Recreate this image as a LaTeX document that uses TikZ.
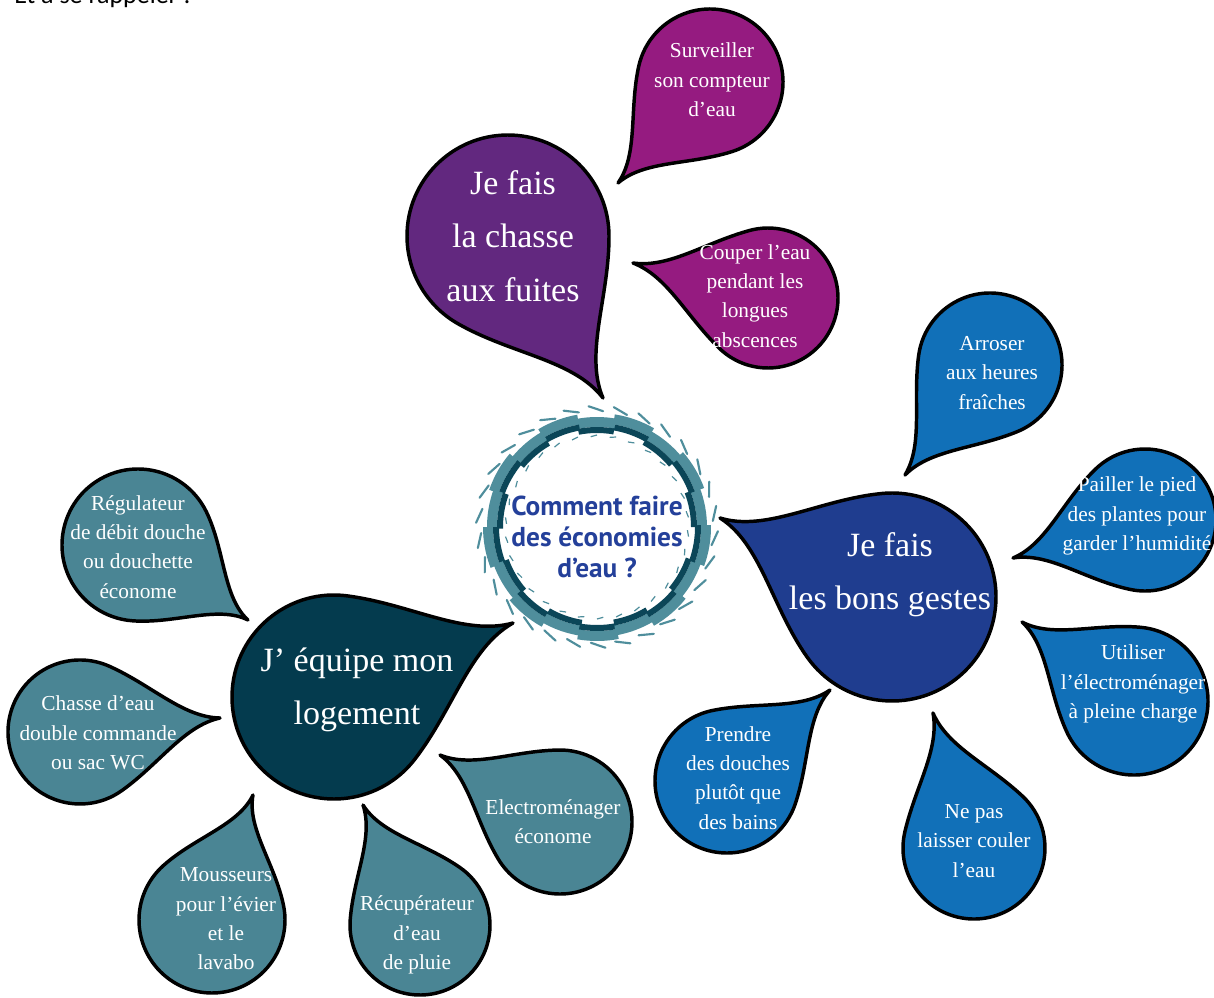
\documentclass[tikz,border=0pt]{standalone}
\usepackage{fontspec}
\setmainfont{Liberation Serif}
\newfontfamily\ctrfont{PT Sans}
\newfontfamily\topfont{Carlito}
\usetikzlibrary{calc}
\definecolor{purpleBig}{HTML}{62287F}
\definecolor{magentaSmall}{HTML}{951B80}
\definecolor{navyBig}{HTML}{1F3D8F}
\definecolor{blueSmall}{HTML}{1170B8}
\definecolor{tealBig}{HTML}{043B4E}
\definecolor{tealSmall}{HTML}{4A8594}
\definecolor{ringTeal}{HTML}{4F8E9C}
\definecolor{ringDark}{HTML}{0B4658}
\definecolor{ctrText}{HTML}{24409A}
\tikzset{
  dropline/.style={draw=black, line width=2.6pt, line join=round},
  smalltxt/.style={text=white, align=center, font=\fontsize{16}{22}\selectfont, inner sep=0pt},
  bigtxt/.style={text=white, align=center, font=\fontsize{25.5}{40}\selectfont, inner sep=0pt},
}
% #1 cx, #2 cy, #3 r, #4 tx, #5 ty, #6 colour, #7 bend, #8 join angle
\newcommand\waterdrop[8]{%
  \pgfmathsetmacro\ddx{#4-#1}%
  \pgfmathsetmacro\ddy{#2-#5}%
  \pgfmathsetmacro\dd{veclen(\ddx,\ddy)}%
  \pgfmathsetmacro\th{atan2(\ddy,\ddx)}%
  \pgfmathsetmacro\al{#8}%
  \pgfmathsetmacro\ca{#3*cos(\al)}%
  \pgfmathsetmacro\sa{#3*sin(\al)}%
  \pgfmathsetmacro\LL{\dd-\ca}%
  \pgfmathsetmacro\kk{0.45*\LL}%
  \pgfmathsetmacro\tc{\dd-0.35*\LL}%
  \pgfmathsetmacro\ww{0.06*#3}%
  \pgfmathsetmacro\pax{\ca+\kk*sin(\al)}%
  \pgfmathsetmacro\pay{\sa-\kk*cos(\al)}%
  \pgfmathsetmacro\tpa{\ww+#7}%
  \pgfmathsetmacro\tpb{-\ww+#7}%
  \pgfmathsetmacro\ea{360-\al}%
  \begin{scope}[shift={(#1,-#2)}, rotate=\th]
    \filldraw[dropline, fill=#6] (\dd,0) .. controls (\tc,\tpa) and (\pax,\pay) .. (\ca,\sa)
      arc[start angle=\al, end angle=\ea, radius=#3]
      .. controls (\pax,-\pay) and (\tc,\tpb) .. cycle;
  \end{scope}%
}
\begin{document}
\begin{tikzpicture}[x=0.75pt, y=0.75pt]
\useasboundingbox (0,0) rectangle (1214,-998);
\fill[white] (0,0) rectangle (1214,-998);

% top partial text
\node[anchor=base west, inner sep=0pt, font=\topfont\fontsize{19.5}{22}\selectfont] (toptxt) at (14,-4) {Et à se rappeler :};

% purple group
\waterdrop{508}{236}{101}{603}{398}{purpleBig}{0}{60}
\waterdrop{710}{82}{73}{618}{183}{magentaSmall}{0}{60}
\waterdrop{768}{298}{70}{633}{263}{magentaSmall}{0}{60}

% blue group
\waterdrop{892}{597}{104}{720}{518}{navyBig}{0}{60}
\waterdrop{990}{365}{72}{905}{475}{blueSmall}{0}{60}
\waterdrop{1145}{520}{71}{1013}{558}{blueSmall}{0}{62}
\waterdrop{1134}{701}{74}{1022}{622}{blueSmall}{0}{60}
\waterdrop{974}{848}{71}{933}{713}{blueSmall}{0}{60}
\waterdrop{727}{781}{72}{830}{690}{blueSmall}{0}{60}

% teal group
\waterdrop{334}{697}{102}{513}{623}{tealBig}{0}{60}
\waterdrop{138}{545}{76}{248}{620}{tealSmall}{0}{60}
\waterdrop{80}{732}{72}{220}{718}{tealSmall}{0}{60}
\waterdrop{212}{920}{73}{253}{795}{tealSmall}{0}{60}
\waterdrop{420}{925}{70}{363}{805}{tealSmall}{0}{60}
\waterdrop{560}{822}{72}{440}{755}{tealSmall}{0}{60}

% centre ring
\begin{scope}[shift={(597,-527)}]
  \fill[white] (0,0) circle[radius=96];
  \foreach \i in {0,...,17}{
    \pgfmathsetmacro\aa{\i*20}
    \pgfmathsetmacro\ab{\i*20+21}
    \pgfmathsetmacro\oo{mod(\i,2)*4-2}
    \pgfmathsetmacro\ro{112+\oo}
    \pgfmathsetmacro\rm{102+\oo}
    \pgfmathsetmacro\ri{96+\oo}
    \fill[ringTeal] (\aa:\ro) arc[start angle=\aa, end angle=\ab, radius=\ro]
      -- (\ab:\rm) arc[start angle=\ab, end angle=\aa, radius=\rm] -- cycle;
    \fill[ringDark] (\aa:\rm) arc[start angle=\aa, end angle=\ab, radius=\rm]
      -- (\ab:\ri) arc[start angle=\ab, end angle=\aa, radius=\ri] -- cycle;
  }
  \foreach \i in {0,...,29}{
    \pgfmathsetmacro\bb{\i*12+3}
    \pgfmathsetmacro\bc{\i*12+10}
    \pgfmathsetmacro\bd{\i*12+6}
    \pgfmathsetmacro\be{\i*12+10}
    \draw[ringTeal, line width=1.6pt, line cap=round] (\bb:116) -- (\bc:121);
    \draw[ringTeal, line width=0.9pt] (\bd:92) -- (\be:90.5);
  }
\end{scope}
\node[text=ctrText, align=center, inner sep=0pt, font=\ctrfont\bfseries\fontsize{20.5}{23.3}\selectfont] (centre) at (597,-537) {Comment faire\\des économies\\d’eau ?};

% texts
\node[bigtxt] (chasse) at (513,-236) {Je fais\\la chasse\\aux fuites};
\node[smalltxt] (surv) at (712,-80) {Surveiller\\son compteur\\d’eau};
\node[smalltxt] (couper) at (755,-296) {Couper l’eau\\pendant les\\longues\\abscences};

\node[bigtxt] (gestes) at (890,-575) {Je fais\\les bons gestes};
\node[smalltxt] (arroser) at (992,-373) {Arroser\\aux heures\\fraîches};
\node[smalltxt] (pailler) at (1137,-516) {Pailler le pied\\des plantes pour\\garder l’humidité};
\node[smalltxt] (utiliser) at (1133,-684) {Utiliser\\l’électroménager\\à pleine charge};
\node[smalltxt] (nepas) at (974,-841) {Ne pas\\laisser couler\\l’eau};
\node[smalltxt] (prendre) at (738,-778) {Prendre\\des douches\\plutôt que\\des bains};

\node[bigtxt] (equipe) at (357,-690) {J’ équipe mon\\logement};
\node[smalltxt] (regul) at (138,-547) {Régulateur\\de débit douche\\ou douchette\\économe};
\node[smalltxt] (chassedeau) at (98,-733) {Chasse d’eau\\double commande\\ou sac WC};
\node[smalltxt] (mousseurs) at (226,-919) {Mousseurs\\pour l’évier\\et le\\lavabo};
\node[smalltxt] (recup) at (417,-935) {Récupérateur\\d’eau\\de pluie};
\node[smalltxt] (electro) at (553,-822) {Electroménager\\économe};
\end{tikzpicture}
\end{document}
